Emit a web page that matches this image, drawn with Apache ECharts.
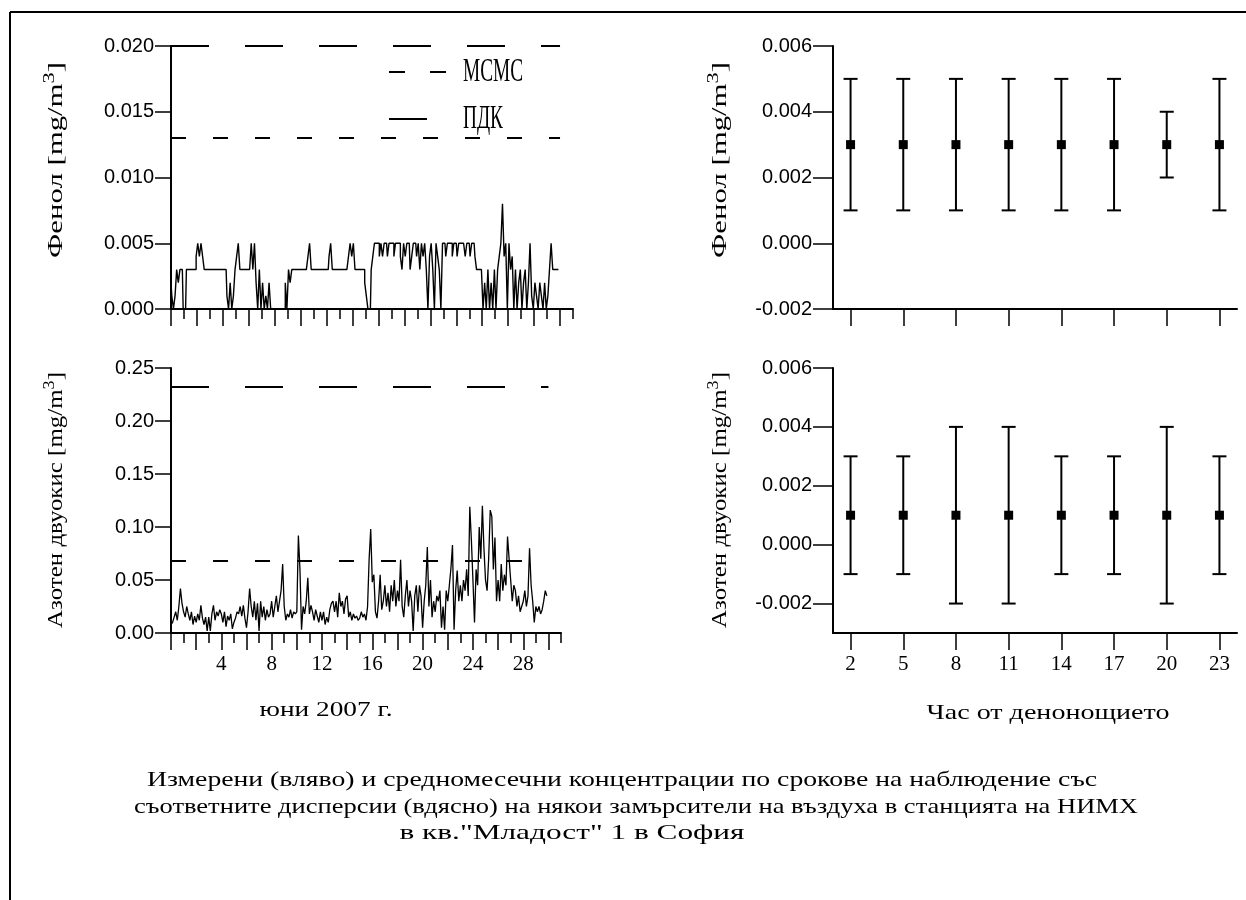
<!DOCTYPE html>
<html>
<head>
<meta charset="utf-8">
<script src="https://cdn.jsdelivr.net/npm/echarts@6/dist/echarts.min.js"></script>
<style>
html,body{margin:0;padding:0;background:#fff}
#chart{width:1246px;height:900px}
</style>
</head>
<body>
<div id="chart"></div>
<script>
// измервания на всеки 3 часа, юни 2007 (8 на ден, 30 дни)
var phenol = [
 0.002,0.001,0,0.001,0.003,0.002,0.003,0.003,0,0,
 0.003,0.003,0.003,0.003,0.003,0.003,0.004,0.005,0.004,0.005,
 0.004,0.003,0.003,0.003,0.003,0.003,0.003,0.003,0.003,0.003,
 0.003,0.003,0.003,0.003,0.003,0.001,0,0.002,0,0.001,
 0.003,0.004,0.005,0.003,0.003,0.003,0.003,0.003,0.003,0.003,
 0.005,0.003,0.005,0.002,0,0.003,0,0.002,0,0.001,
 0,0.002,0,0,0,0,0,0,0,0,
 0,0.002,0,0.003,0.002,0.003,0.003,0.003,0.003,0.003,
 0.003,0.003,0.003,0.003,0.003,0.004,0.005,0.003,0.003,0.003,
 0.003,0.003,0.003,0.003,0.003,0.003,0.003,0.003,0.004,0.005,
 0.003,0.003,0.003,0.003,0.003,0.003,0.003,0.003,0.003,0.003,
 0.004,0.005,0.004,0.005,0.003,0.003,0.003,0.003,0.003,0.003,
 0.002,0.001,0,0,0.003,0.004,0.005,0.005,0.005,0.004,
 0.005,0.004,0.005,0.005,0.004,0.005,0.005,0.005,0.004,0.005,
 0.005,0.005,0.004,0.003,0.005,0.004,0.005,0.005,0.003,0.004,
 0.005,0.005,0.004,0.005,0.003,0.005,0.004,0.005,0.003,0,
 0.004,0.005,0.003,0,0.005,0.004,0.003,0,0.005,0.005,
 0.004,0.005,0.005,0.005,0.004,0.005,0.005,0.004,0.005,0.005,
 0.005,0.005,0.004,0.005,0.005,0.004,0.005,0.005,0.004,0.003,
 0.003,0.003,0.003,0,0.002,0,0.003,0,0.002,0,
 0.003,0,0.003,0.004,0.005,0.008,0.004,0.005,0,0.005,
 0.003,0.004,0,0.003,0,0.002,0.003,0,0.002,0.003,
 0,0.002,0.005,0.001,0,0.002,0.001,0,0.002,0.001,
 0,0.002,0,0.001,0.003,0.005,0.003,0.003,0.003,0.003
];
var no2 = [
 0.008,0.010,0.015,0.020,0.012,0.025,0.042,0.028,
 0.020,0.015,0.025,0.018,0.012,0.020,0.008,0.016,
 0.010,0.018,0.012,0.026,0.014,0.008,0.015,0.002,
 0.015,0.002,0.018,0.026,0.012,0.020,0.016,0.022,
 0.018,0.010,0.020,0.006,0.016,0.012,0.018,0.004,
 0.010,0.014,0.020,0.018,0.025,0.016,0.026,0.014,
 0.005,0.020,0.042,0.025,0.015,0.030,0.012,0.028,
 0.002,0.030,0.015,0.025,0.012,0.022,0.015,0.018,
 0.030,0.015,0.025,0.035,0.020,0.030,0.040,0.065,
 0.025,0.012,0.018,0.015,0.022,0.014,0.020,0.018,
 0.020,0.092,0.060,0.003,0.025,0.018,0.030,0.052,
 0.018,0.026,0.020,0.012,0.022,0.016,0.010,0.020,
 0.012,0.020,0.008,0.015,0.010,0.022,0.028,0.030,
 0.020,0.030,0.015,0.038,0.025,0.030,0.018,0.032,
 0.035,0.015,0.020,0.012,0.018,0.014,0.016,0.012,
 0.014,0.020,0.015,0.018,0.012,0.025,0.070,0.098,
 0.048,0.055,0.020,0.014,0.030,0.055,0.022,0.030,
 0.045,0.025,0.038,0.020,0.045,0.030,0.050,0.025,
 0.040,0.030,0.069,0.025,0.015,0.035,0.050,0.025,
 0.040,0.030,0.002,0.035,0.045,0.020,0.045,0.035,
 0.005,0.030,0.045,0.081,0.025,0.050,0.015,0.030,
 0.020,0.035,0.030,0.040,0.005,0.025,0.003,0.040,
 0.030,0.045,0.061,0.083,0.003,0.040,0.059,0.030,
 0.045,0.030,0.050,0.040,0.060,0.035,0.119,0.088,
 0.050,0.010,0.060,0.045,0.100,0.070,0.120,0.080,
 0.050,0.040,0.070,0.116,0.110,0.060,0.090,0.030,
 0.050,0.030,0.065,0.040,0.055,0.045,0.091,0.070,
 0.050,0.030,0.045,0.040,0.025,0.035,0.020,0.025,
 0.030,0.040,0.025,0.035,0.080,0.045,0.030,0.010,
 0.025,0.020,0.025,0.018,0.022,0.030,0.040,0.035
];
var phenolPdk = 0.020, phenolMsms = 0.013;
var no2Pdk = 0.232, no2Msms = 0.068;
var lastDay = 30;

// средномесечни по срокове
var hours = [2, 5, 8, 11, 14, 17, 20, 23];
var phenolMean = [0.003, 0.003, 0.003, 0.003, 0.003, 0.003, 0.003, 0.003];
var phenolLow  = [0.001, 0.001, 0.001, 0.001, 0.001, 0.001, 0.002, 0.001];
var phenolHigh = [0.005, 0.005, 0.005, 0.005, 0.005, 0.005, 0.004, 0.005];
var no2Mean = [0.001, 0.001, 0.001, 0.001, 0.001, 0.001, 0.001, 0.001];
var no2Low  = [-0.001, -0.001, -0.002, -0.002, -0.001, -0.001, -0.002, -0.001];
var no2High = [0.003, 0.003, 0.004, 0.004, 0.003, 0.003, 0.004, 0.003];

var evenDays = [0,2,4,6,8,10,12,14,16,18,20,22,24,26,28,30];
var oddDays = [1,3,5,7,9,11,13,15,17,19,21,23,25,27,29,31];
var dayLabels = [4,8,12,16,20,24,28];
var no2RightTicks = [-0.002, 0, 0.002, 0.004, 0.006];

var SERIF = '"Liberation Serif","DejaVu Serif",serif';
var SANS = '"Liberation Sans",Arial,sans-serif';

var measureCtx = document.createElement('canvas').getContext('2d');
function textWidth(txt, size) {
    measureCtx.font = size + 'px ' + SERIF;
    return measureCtx.measureText(txt).width;
}

function series3h(arr) {
    return arr.map(function (v, i) { return [i / 8, v]; });
}
function hLine(v) {
    return [[0, v], [lastDay, v]];
}
function bars(mean, low, high) {
    return hours.map(function (h, i) { return [h, mean[i], low[i], high[i]]; });
}

function dayAxis(grid, ticks, len, withLine, labels) {
    return {
        type: 'value', gridIndex: grid, min: 0, max: 31, position: 'bottom', offset: 0,
        axisLine: {show: withLine, onZero: false, lineStyle: {color: '#000', width: 2}},
        axisTick: {show: true, customValues: ticks, length: len, lineStyle: {color: '#000', width: 1.5}},
        axisLabel: labels ? {show: true, customValues: labels, margin: 21, color: '#000',
            fontFamily: SERIF, fontSize: 21} : {show: false},
        splitLine: {show: false}
    };
}
function hourAxis(grid, withLabels) {
    return {
        type: 'value', gridIndex: grid, min: 1, max: 24, position: 'bottom',
        axisLine: {onZero: false, lineStyle: {color: '#000', width: 2}},
        axisTick: {customValues: hours, length: 17, lineStyle: {color: '#000', width: 1.5}},
        axisLabel: withLabels ? {show: true, customValues: hours, margin: 21, color: '#000',
            fontFamily: SERIF, fontSize: 21} : {show: false},
        splitLine: {show: false}
    };
}
function valAxis(grid, min, max, interval, digits, tickLen, custom) {
    var ax = {
        type: 'value', gridIndex: grid, min: min, max: max, position: 'left',
        axisLine: {show: true, onZero: false, lineStyle: {color: '#000', width: 2}},
        axisTick: {length: tickLen, lineStyle: {color: '#000', width: 1.5}},
        axisLabel: {margin: tickLen + 1, color: '#000', fontFamily: SANS, fontSize: 20,
            formatter: function (v) { return v.toFixed(digits); }},
        splitLine: {show: false}
    };
    if (custom) {
        ax.axisTick.customValues = custom;
        ax.axisLabel.customValues = custom;
    } else {
        ax.interval = interval;
    }
    return ax;
}

function errorBar(params, api) {
    var x = api.value(0);
    var pm = api.coord([x, api.value(1)]);
    var pl = api.coord([x, api.value(2)]);
    var ph = api.coord([x, api.value(3)]);
    var cap = 7, sq = 4.5;
    var st = {stroke: '#000', lineWidth: 2};
    return {type: 'group', children: [
        {type: 'line', shape: {x1: pm[0], y1: pl[1], x2: pm[0], y2: ph[1]}, style: st},
        {type: 'line', shape: {x1: pm[0] - cap, y1: pl[1], x2: pm[0] + cap, y2: pl[1]}, style: st},
        {type: 'line', shape: {x1: pm[0] - cap, y1: ph[1], x2: pm[0] + cap, y2: ph[1]}, style: st},
        {type: 'rect', shape: {x: pm[0] - sq, y: pm[1] - sq, width: sq * 2, height: sq * 2}, style: {fill: '#000'}}
    ]};
}

// вертикални надписи на осите, разтеглени по дължина като в оригинала
function yTitle(x, y, name, target) {
    var w = textWidth(name + ' [mg/m', 22) + textWidth(']', 22) + textWidth('3', 16);
    return {
        type: 'text', x: x, y: y, rotation: Math.PI / 2, scaleX: target / w,
        style: {
            text: '{n|' + name + ' [mg/m}{s|3}{n|]}', align: 'center', verticalAlign: 'middle', fill: '#000',
            rich: {
                n: {fontFamily: SERIF, fontSize: 22, fill: '#000'},
                s: {fontFamily: SERIF, fontSize: 16, fill: '#000', padding: [0, 0, 12, 0]}
            }
        }
    };
}
function stretched(txt, x, y, size, target, align) {
    return {
        type: 'text', x: x, y: y, scaleX: target / textWidth(txt, size),
        style: {text: txt, fontFamily: SERIF, fontSize: size, fill: '#000',
            align: align || 'center', verticalAlign: 'middle'}
    };
}
function seg(x1, y1, x2, y2) {
    return {type: 'line', shape: {x1: x1, y1: y1, x2: x2, y2: y2}, style: {stroke: '#000', lineWidth: 2}};
}

var chart = echarts.init(document.getElementById('chart'));
var option = {
    animation: false,
    backgroundColor: '#fff',
    grid: [
        {left: 171, top: 46, width: 402, height: 263, containLabel: false, outerBoundsMode: 'none'},
        {left: 171, top: 368, width: 390, height: 265, containLabel: false, outerBoundsMode: 'none'},
        {left: 833, top: 46, width: 404, height: 263, containLabel: false, outerBoundsMode: 'none'},
        {left: 833, top: 368, width: 404, height: 265, containLabel: false, outerBoundsMode: 'none'}
    ],
    xAxis: [
        dayAxis(0, evenDays, 17, true, null),
        dayAxis(0, oddDays, 10, false, null),
        dayAxis(1, evenDays, 17, true, dayLabels),
        dayAxis(1, oddDays, 10, false, null),
        hourAxis(2, false),
        hourAxis(3, true)
    ],
    yAxis: [
        valAxis(0, 0, 0.02, 0.005, 3, 16),
        valAxis(1, 0, 0.25, 0.05, 2, 16),
        valAxis(2, -0.002, 0.006, 0.002, 3, 20),
        valAxis(3, -0.003, 0.006, null, 3, 20, no2RightTicks)
    ],
    series: [
        {name: 'Фенол', type: 'line', xAxisIndex: 0, yAxisIndex: 0, data: series3h(phenol),
            step: 'middle', showSymbol: false, lineStyle: {color: '#000', width: 1.4}},
        {name: 'ПДК', type: 'line', xAxisIndex: 0, yAxisIndex: 0, data: hLine(phenolPdk),
            showSymbol: false, lineStyle: {color: '#000', width: 2, type: [38, 36]}},
        {name: 'МСМС', type: 'line', xAxisIndex: 0, yAxisIndex: 0, data: hLine(phenolMsms),
            showSymbol: false, lineStyle: {color: '#000', width: 2, type: [15, 27]}},
        {name: 'Азотен двуокис', type: 'line', xAxisIndex: 2, yAxisIndex: 1, data: series3h(no2),
            showSymbol: false, lineStyle: {color: '#000', width: 1.3}},
        {name: 'ПДК NO2', type: 'line', xAxisIndex: 2, yAxisIndex: 1, data: hLine(no2Pdk),
            showSymbol: false, lineStyle: {color: '#000', width: 2, type: [38, 36]}},
        {name: 'МСМС NO2', type: 'line', xAxisIndex: 2, yAxisIndex: 1, data: hLine(no2Msms),
            showSymbol: false, lineStyle: {color: '#000', width: 2, type: [15, 27]}},
        {type: 'custom', xAxisIndex: 4, yAxisIndex: 2, renderItem: errorBar,
            encode: {x: 0, y: [1, 2, 3]}, data: bars(phenolMean, phenolLow, phenolHigh)},
        {type: 'custom', xAxisIndex: 5, yAxisIndex: 3, renderItem: errorBar,
            encode: {x: 0, y: [1, 2, 3]}, data: bars(no2Mean, no2Low, no2High)}
    ],
    graphic: [
        seg(10, 12, 10, 900),
        seg(10, 12, 1246, 12),
        // легенда
        seg(389, 72, 405, 72), seg(430, 72, 446, 72),
        seg(389, 119, 427, 119),
        stretched('МСМС', 463, 72, 34, 60, 'left'),
        stretched('ПДК', 463, 119, 34, 40, 'left'),
        yTitle(56, 160, 'Фенол', 196),
        yTitle(56, 500, 'Азотен двуокис', 256),
        yTitle(720, 160, 'Фенол', 196),
        yTitle(720, 500, 'Азотен двуокис', 256),
        stretched('юни 2007 г.', 326, 711, 20, 133),
        stretched('Час от денонощието', 1048, 713, 22, 243),
        stretched('Измерени (вляво) и средномесечни концентрации по срокове на наблюдение със', 622, 780, 21, 950),
        stretched('съответните дисперсии (вдясно) на някои замърсители на въздуха в станцията на НИМХ', 636, 807, 21, 1004),
        stretched('в кв."Младост" 1 в София', 572, 833, 21, 345)
    ]
};
chart.setOption(option);
</script>
</body>
</html>
